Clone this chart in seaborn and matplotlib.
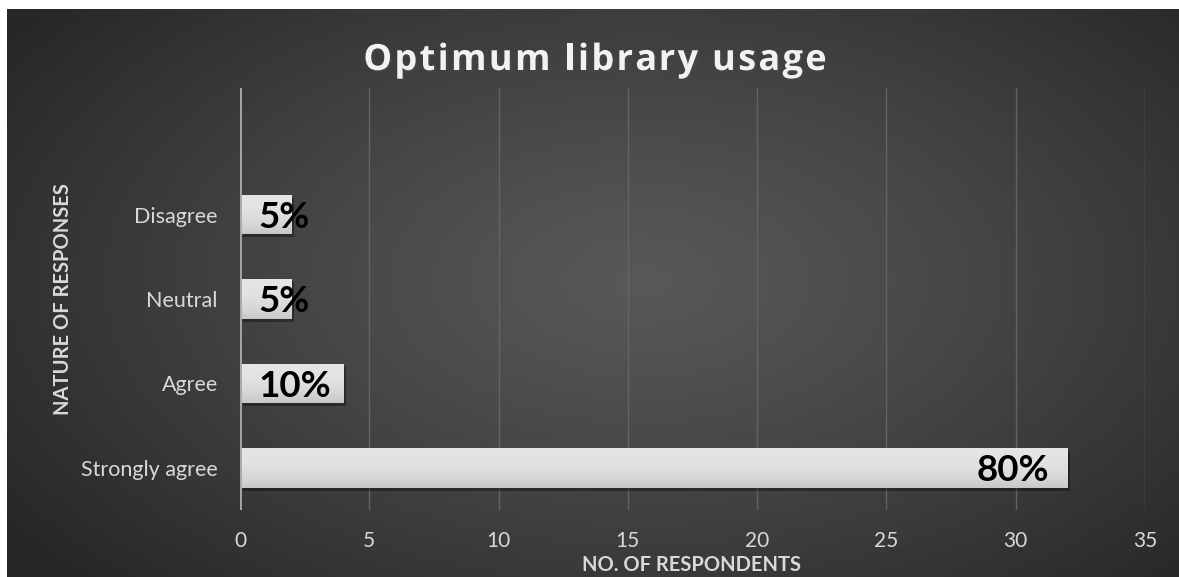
import numpy as np
import pandas as pd
import matplotlib
matplotlib.use("Agg")
import matplotlib.pyplot as plt
import matplotlib.patheffects as pe
from matplotlib.patches import Rectangle
import seaborn as sns

# survey answers, listed top to bottom
categories = ["Disagree", "Neutral", "Agree", "Strongly agree"]
respondents = [2, 2, 4, 32]
x_ticks = [0, 5, 10, 15, 20, 25, 30, 35]

title = "Optimum library usage"
x_label = "NO. OF RESPONDENTS"
y_label = "NATURE OF RESPONSES"

W, H, DPI = 1179, 577, 100

sns.set_theme(style="dark")
plt.rcParams["font.family"] = ["Lato", "DejaVu Sans"]

fig = plt.figure(figsize=(W / DPI, H / DPI), dpi=DPI, facecolor="white")

# dark backdrop with a soft radial light in the middle
bg = fig.add_axes([7 / W, 0, (W - 7) / W, (H - 9) / H])
bg.set_axis_off()
ny, nx = H - 9, W - 7
yy, xx = np.mgrid[0:ny, 0:nx]
cx, cy = 640 - 7, 280 - 9
r = np.sqrt(((xx - cx) / 760) ** 2 + ((yy - cy) / 430) ** 2)
r = np.clip(r, 0, 1)
v = 0.345 - (0.345 - 0.155) * r ** 1.2
bg.imshow(np.dstack([v, v, v]), aspect="auto", interpolation="bilinear")

# plotting area
ax = fig.add_axes([240 / W, 1 - 510 / H, (1145 - 240) / W, (510 - 88) / H])
ax.set_facecolor("none")
df = pd.DataFrame({"category": categories, "respondents": respondents})
sns.barplot(data=df, x="respondents", y="category", orient="h",
            color="#dcdcdc", saturation=1, width=0.47, ax=ax, zorder=3,
            linewidth=0)

# shading and drop shadow on every bar
grad = np.linspace(0, 1, 64)[:, None]
shade = 0.895 - 0.115 * grad ** 2.5
shade_img = np.dstack([shade, shade, shade])
for p in list(ax.patches):
    x0, y0 = p.get_x(), p.get_y()
    w, h = p.get_width(), p.get_height()
    ax.add_patch(Rectangle((x0 + 0.1, y0 + 0.035), w, h, facecolor="black",
                           edgecolor="none", alpha=0.35, zorder=2.5))
    im = ax.imshow(shade_img, extent=[x0, x0 + w, y0 + h, y0], aspect="auto",
                   zorder=3.1, interpolation="bilinear")
    im.set_clip_path(p)

ax.set_xlim(0, 35)
ax.set_ylim(3.5, -1.5)
ax.set_xticks(x_ticks)
ax.grid(axis="x", color="#636363", lw=1)
ax.grid(axis="y", visible=False)
ax.set_axisbelow(True)
ax.axvline(0, color="#a8a8a8", lw=2, zorder=4)
for s in ax.spines.values():
    s.set_visible(False)
ax.tick_params(axis="x", length=0, pad=15, labelsize=15, labelcolor="#d9d9d9")
ax.tick_params(axis="y", length=0, pad=16, labelsize=15.5, labelcolor="#d9d9d9")
ax.set_xlabel("")
ax.set_ylabel("")

# percentage share of each answer
total = sum(respondents)
for i, n in enumerate(respondents):
    label = f"{round(n / total * 100)}%"
    if n > 8:
        ax.annotate(label, (n, i), xytext=(-13, 0), textcoords="offset points",
                    ha="right", va="center_baseline", fontsize=26.5,
                    weight="bold", color="black", zorder=5)
    else:
        ax.annotate(label, (0, i), xytext=(13, 0), textcoords="offset points",
                    ha="left", va="center_baseline", fontsize=26.5,
                    weight="bold", color="black", zorder=5)


def spaced_title(text, cx_px, cy_px, spacing_px, **kw):
    """Draw a centred line of text with extra tracking between letters."""
    renderer = fig.canvas.get_renderer()

    def width(s):
        t = fig.text(0, 0, s + "|", **kw)
        bar = fig.text(0, 0, "|", **kw)
        wd = (t.get_window_extent(renderer).width
              - bar.get_window_extent(renderer).width)
        t.remove()
        bar.remove()
        return wd

    total_w = width(text) + spacing_px * (len(text) - 1)
    left = cx_px - total_w / 2
    for k, ch in enumerate(text):
        if ch == " ":
            continue
        xk = left + width(text[:k]) + spacing_px * k
        fig.text(xk / W, 1 - cy_px / H, ch, ha="left", va="baseline", **kw)


spaced_title(title, 595, 70, 2.3, fontsize=26, weight="bold",
             family=["Open Sans", "DejaVu Sans"], color="#f2f2f2",
             path_effects=[pe.withSimplePatchShadow(offset=(1.5, -1.5),
                                                    alpha=0.5)])
fig.text(692 / W, 1 - 565 / H, x_label, ha="center", va="center",
         fontsize=14.5, weight="bold", color="#d9d9d9")
fig.text(63 / W, 1 - 299 / H, y_label, ha="center", va="center", rotation=90,
         fontsize=14.5, weight="bold", color="#d9d9d9")

fig.savefig("out.png", dpi=DPI)
